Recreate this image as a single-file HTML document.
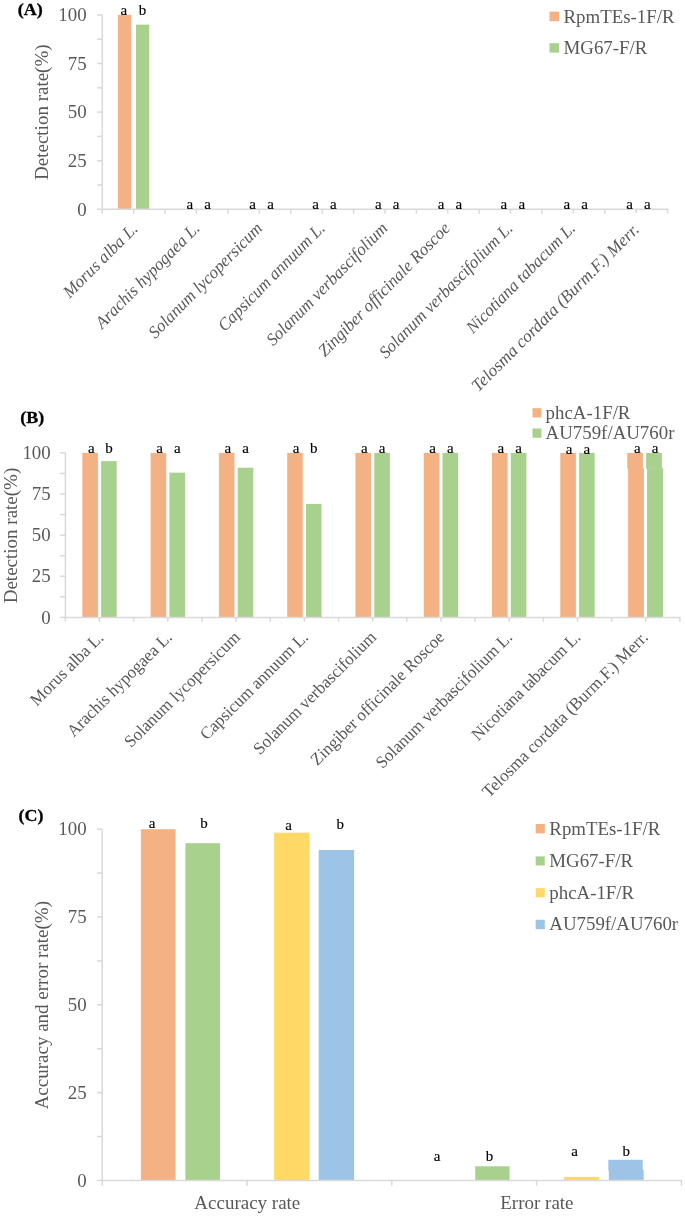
<!DOCTYPE html>
<html><head><meta charset="utf-8"><style>
html,body{margin:0;padding:0;background:#fff;width:685px;height:1216px;overflow:hidden}
svg{display:block}
text{font-family:"Liberation Serif",serif}
</style></head><body>
<svg width="685" height="1216" viewBox="0 0 685 1216">
<defs><filter id="bl" x="-5%" y="-5%" width="110%" height="110%"><feGaussianBlur stdDeviation="0.45"/></filter></defs>
<rect width="685" height="1216" fill="#fff"/>
<rect x="117.86" y="14.90" width="13.30" height="194.40" fill="#F4B183"/>
<rect x="136.01" y="24.62" width="13.30" height="184.68" fill="#A9D18E"/>
<line x1="102.30" y1="14.90" x2="102.30" y2="209.30" stroke="#D9D9D9" stroke-width="1.5"/>
<line x1="101.70" y1="209.30" x2="668.20" y2="209.30" stroke="#D9D9D9" stroke-width="1.5"/>
<line x1="97.10" y1="209.30" x2="102.30" y2="209.30" stroke="#D9D9D9" stroke-width="1.5"/>
<line x1="97.10" y1="185.00" x2="102.30" y2="185.00" stroke="#D9D9D9" stroke-width="1.5"/>
<line x1="97.10" y1="160.70" x2="102.30" y2="160.70" stroke="#D9D9D9" stroke-width="1.5"/>
<line x1="97.10" y1="136.40" x2="102.30" y2="136.40" stroke="#D9D9D9" stroke-width="1.5"/>
<line x1="97.10" y1="112.10" x2="102.30" y2="112.10" stroke="#D9D9D9" stroke-width="1.5"/>
<line x1="97.10" y1="87.80" x2="102.30" y2="87.80" stroke="#D9D9D9" stroke-width="1.5"/>
<line x1="97.10" y1="63.50" x2="102.30" y2="63.50" stroke="#D9D9D9" stroke-width="1.5"/>
<line x1="97.10" y1="39.20" x2="102.30" y2="39.20" stroke="#D9D9D9" stroke-width="1.5"/>
<line x1="97.10" y1="14.90" x2="102.30" y2="14.90" stroke="#D9D9D9" stroke-width="1.5"/>
<line x1="102.30" y1="209.30" x2="102.30" y2="213.60" stroke="#D9D9D9" stroke-width="1.5"/>
<line x1="133.71" y1="209.30" x2="133.71" y2="213.60" stroke="#D9D9D9" stroke-width="1.5"/>
<line x1="165.11" y1="209.30" x2="165.11" y2="213.60" stroke="#D9D9D9" stroke-width="1.5"/>
<line x1="196.52" y1="209.30" x2="196.52" y2="213.60" stroke="#D9D9D9" stroke-width="1.5"/>
<line x1="227.92" y1="209.30" x2="227.92" y2="213.60" stroke="#D9D9D9" stroke-width="1.5"/>
<line x1="259.33" y1="209.30" x2="259.33" y2="213.60" stroke="#D9D9D9" stroke-width="1.5"/>
<line x1="290.73" y1="209.30" x2="290.73" y2="213.60" stroke="#D9D9D9" stroke-width="1.5"/>
<line x1="322.14" y1="209.30" x2="322.14" y2="213.60" stroke="#D9D9D9" stroke-width="1.5"/>
<line x1="353.54" y1="209.30" x2="353.54" y2="213.60" stroke="#D9D9D9" stroke-width="1.5"/>
<line x1="384.95" y1="209.30" x2="384.95" y2="213.60" stroke="#D9D9D9" stroke-width="1.5"/>
<line x1="416.36" y1="209.30" x2="416.36" y2="213.60" stroke="#D9D9D9" stroke-width="1.5"/>
<line x1="447.76" y1="209.30" x2="447.76" y2="213.60" stroke="#D9D9D9" stroke-width="1.5"/>
<line x1="479.17" y1="209.30" x2="479.17" y2="213.60" stroke="#D9D9D9" stroke-width="1.5"/>
<line x1="510.57" y1="209.30" x2="510.57" y2="213.60" stroke="#D9D9D9" stroke-width="1.5"/>
<line x1="541.98" y1="209.30" x2="541.98" y2="213.60" stroke="#D9D9D9" stroke-width="1.5"/>
<line x1="573.38" y1="209.30" x2="573.38" y2="213.60" stroke="#D9D9D9" stroke-width="1.5"/>
<line x1="604.79" y1="209.30" x2="604.79" y2="213.60" stroke="#D9D9D9" stroke-width="1.5"/>
<line x1="636.19" y1="209.30" x2="636.19" y2="213.60" stroke="#D9D9D9" stroke-width="1.5"/>
<line x1="667.60" y1="209.30" x2="667.60" y2="213.60" stroke="#D9D9D9" stroke-width="1.5"/>
<rect x="549.50" y="11.60" width="9.60" height="9.60" fill="#F4B183"/>
<rect x="549.50" y="43.20" width="9.60" height="9.40" fill="#A9D18E"/>
<rect x="82.34" y="452.90" width="15.60" height="164.50" fill="#F4B183"/>
<rect x="101.14" y="461.12" width="15.60" height="156.27" fill="#A9D18E"/>
<rect x="150.62" y="452.90" width="15.60" height="164.50" fill="#F4B183"/>
<rect x="169.42" y="472.64" width="15.60" height="144.76" fill="#A9D18E"/>
<rect x="218.89" y="452.90" width="15.60" height="164.50" fill="#F4B183"/>
<rect x="237.69" y="467.70" width="15.60" height="149.69" fill="#A9D18E"/>
<rect x="287.17" y="452.90" width="15.60" height="164.50" fill="#F4B183"/>
<rect x="305.97" y="503.89" width="15.60" height="113.50" fill="#A9D18E"/>
<rect x="355.45" y="452.90" width="15.60" height="164.50" fill="#F4B183"/>
<rect x="374.25" y="452.90" width="15.60" height="164.50" fill="#A9D18E"/>
<rect x="423.73" y="452.90" width="15.60" height="164.50" fill="#F4B183"/>
<rect x="442.53" y="452.90" width="15.60" height="164.50" fill="#A9D18E"/>
<rect x="492.01" y="452.90" width="15.60" height="164.50" fill="#F4B183"/>
<rect x="510.81" y="452.90" width="15.60" height="164.50" fill="#A9D18E"/>
<rect x="560.28" y="452.90" width="15.60" height="164.50" fill="#F4B183"/>
<rect x="579.08" y="452.90" width="15.60" height="164.50" fill="#A9D18E"/>
<rect x="627.30" y="452.90" width="15.60" height="15.90" fill="#F4B183"/>
<rect x="646.10" y="452.90" width="15.80" height="15.90" fill="#A9D18E"/>
<rect x="628.10" y="468.20" width="15.80" height="149.20" fill="#F4B183"/>
<rect x="647.00" y="468.20" width="16.00" height="149.20" fill="#A9D18E"/>
<line x1="65.40" y1="452.90" x2="65.40" y2="617.40" stroke="#D9D9D9" stroke-width="1.5"/>
<line x1="64.80" y1="617.40" x2="680.50" y2="617.40" stroke="#D9D9D9" stroke-width="1.5"/>
<line x1="60.20" y1="617.40" x2="65.40" y2="617.40" stroke="#D9D9D9" stroke-width="1.5"/>
<line x1="60.20" y1="596.84" x2="65.40" y2="596.84" stroke="#D9D9D9" stroke-width="1.5"/>
<line x1="60.20" y1="576.27" x2="65.40" y2="576.27" stroke="#D9D9D9" stroke-width="1.5"/>
<line x1="60.20" y1="555.71" x2="65.40" y2="555.71" stroke="#D9D9D9" stroke-width="1.5"/>
<line x1="60.20" y1="535.15" x2="65.40" y2="535.15" stroke="#D9D9D9" stroke-width="1.5"/>
<line x1="60.20" y1="514.59" x2="65.40" y2="514.59" stroke="#D9D9D9" stroke-width="1.5"/>
<line x1="60.20" y1="494.02" x2="65.40" y2="494.02" stroke="#D9D9D9" stroke-width="1.5"/>
<line x1="60.20" y1="473.46" x2="65.40" y2="473.46" stroke="#D9D9D9" stroke-width="1.5"/>
<line x1="60.20" y1="452.90" x2="65.40" y2="452.90" stroke="#D9D9D9" stroke-width="1.5"/>
<line x1="65.40" y1="617.40" x2="65.40" y2="621.70" stroke="#D9D9D9" stroke-width="1.5"/>
<line x1="99.54" y1="617.40" x2="99.54" y2="621.70" stroke="#D9D9D9" stroke-width="1.5"/>
<line x1="133.68" y1="617.40" x2="133.68" y2="621.70" stroke="#D9D9D9" stroke-width="1.5"/>
<line x1="167.82" y1="617.40" x2="167.82" y2="621.70" stroke="#D9D9D9" stroke-width="1.5"/>
<line x1="201.96" y1="617.40" x2="201.96" y2="621.70" stroke="#D9D9D9" stroke-width="1.5"/>
<line x1="236.09" y1="617.40" x2="236.09" y2="621.70" stroke="#D9D9D9" stroke-width="1.5"/>
<line x1="270.23" y1="617.40" x2="270.23" y2="621.70" stroke="#D9D9D9" stroke-width="1.5"/>
<line x1="304.37" y1="617.40" x2="304.37" y2="621.70" stroke="#D9D9D9" stroke-width="1.5"/>
<line x1="338.51" y1="617.40" x2="338.51" y2="621.70" stroke="#D9D9D9" stroke-width="1.5"/>
<line x1="372.65" y1="617.40" x2="372.65" y2="621.70" stroke="#D9D9D9" stroke-width="1.5"/>
<line x1="406.79" y1="617.40" x2="406.79" y2="621.70" stroke="#D9D9D9" stroke-width="1.5"/>
<line x1="440.93" y1="617.40" x2="440.93" y2="621.70" stroke="#D9D9D9" stroke-width="1.5"/>
<line x1="475.07" y1="617.40" x2="475.07" y2="621.70" stroke="#D9D9D9" stroke-width="1.5"/>
<line x1="509.21" y1="617.40" x2="509.21" y2="621.70" stroke="#D9D9D9" stroke-width="1.5"/>
<line x1="543.34" y1="617.40" x2="543.34" y2="621.70" stroke="#D9D9D9" stroke-width="1.5"/>
<line x1="577.48" y1="617.40" x2="577.48" y2="621.70" stroke="#D9D9D9" stroke-width="1.5"/>
<line x1="611.62" y1="617.40" x2="611.62" y2="621.70" stroke="#D9D9D9" stroke-width="1.5"/>
<line x1="645.76" y1="617.40" x2="645.76" y2="621.70" stroke="#D9D9D9" stroke-width="1.5"/>
<line x1="679.90" y1="617.40" x2="679.90" y2="621.70" stroke="#D9D9D9" stroke-width="1.5"/>
<rect x="532.50" y="408.20" width="8.90" height="9.30" fill="#F4B183"/>
<rect x="532.50" y="428.50" width="8.90" height="9.30" fill="#A9D18E"/>
<rect x="140.90" y="829.20" width="34.70" height="351.20" fill="#F4B183"/>
<rect x="185.40" y="843.20" width="34.60" height="337.20" fill="#A9D18E"/>
<rect x="274.10" y="832.70" width="35.40" height="347.70" fill="#FFD966"/>
<rect x="318.70" y="850.00" width="35.40" height="330.40" fill="#9DC3E6"/>
<rect x="475.20" y="1166.30" width="34.40" height="14.10" fill="#A9D18E"/>
<rect x="564.00" y="1176.90" width="35.20" height="3.50" fill="#FFD966"/>
<rect x="608.30" y="1159.80" width="34.40" height="10.60" fill="#9DC3E6"/>
<rect x="608.80" y="1169.80" width="34.90" height="10.60" fill="#9DC3E6"/>
<line x1="102.20" y1="829.20" x2="102.20" y2="1180.40" stroke="#D9D9D9" stroke-width="1.5"/>
<line x1="101.60" y1="1180.40" x2="682.00" y2="1180.40" stroke="#D9D9D9" stroke-width="1.5"/>
<line x1="97.00" y1="1180.40" x2="102.20" y2="1180.40" stroke="#D9D9D9" stroke-width="1.5"/>
<line x1="97.00" y1="1136.50" x2="102.20" y2="1136.50" stroke="#D9D9D9" stroke-width="1.5"/>
<line x1="97.00" y1="1092.60" x2="102.20" y2="1092.60" stroke="#D9D9D9" stroke-width="1.5"/>
<line x1="97.00" y1="1048.70" x2="102.20" y2="1048.70" stroke="#D9D9D9" stroke-width="1.5"/>
<line x1="97.00" y1="1004.80" x2="102.20" y2="1004.80" stroke="#D9D9D9" stroke-width="1.5"/>
<line x1="97.00" y1="960.90" x2="102.20" y2="960.90" stroke="#D9D9D9" stroke-width="1.5"/>
<line x1="97.00" y1="917.00" x2="102.20" y2="917.00" stroke="#D9D9D9" stroke-width="1.5"/>
<line x1="97.00" y1="873.10" x2="102.20" y2="873.10" stroke="#D9D9D9" stroke-width="1.5"/>
<line x1="97.00" y1="829.20" x2="102.20" y2="829.20" stroke="#D9D9D9" stroke-width="1.5"/>
<line x1="102.20" y1="1180.40" x2="102.20" y2="1185.70" stroke="#D9D9D9" stroke-width="1.5"/>
<line x1="247.00" y1="1180.40" x2="247.00" y2="1185.70" stroke="#D9D9D9" stroke-width="1.5"/>
<line x1="391.80" y1="1180.40" x2="391.80" y2="1185.70" stroke="#D9D9D9" stroke-width="1.5"/>
<line x1="536.60" y1="1180.40" x2="536.60" y2="1185.70" stroke="#D9D9D9" stroke-width="1.5"/>
<line x1="681.40" y1="1180.40" x2="681.40" y2="1185.70" stroke="#D9D9D9" stroke-width="1.5"/>
<rect x="535.70" y="824.00" width="9.10" height="9.40" fill="#F4B183"/>
<rect x="535.70" y="856.40" width="9.10" height="9.10" fill="#A9D18E"/>
<rect x="535.70" y="888.20" width="9.10" height="9.10" fill="#FFD966"/>
<rect x="535.70" y="919.80" width="9.10" height="9.40" fill="#9DC3E6"/>
<g filter="url(#bl)">
<text transform="translate(86.60 215.50) scale(1.05 1)" font-size="18" fill="#595959" text-anchor="end" >0</text>
<text transform="translate(86.60 166.90) scale(1.05 1)" font-size="18" fill="#595959" text-anchor="end" >25</text>
<text transform="translate(86.60 118.30) scale(1.05 1)" font-size="18" fill="#595959" text-anchor="end" >50</text>
<text transform="translate(86.60 69.70) scale(1.05 1)" font-size="18" fill="#595959" text-anchor="end" >75</text>
<text transform="translate(86.60 21.10) scale(1.05 1)" font-size="18" fill="#595959" text-anchor="end" >100</text>
<text x="47.80" y="112.20" font-size="19" fill="#595959" text-anchor="middle"  transform="rotate(-90 47.80 112.20)">Detection rate(%)</text>
<text transform="translate(17.80 15.00) scale(1.06 1)" font-size="17" fill="#000" text-anchor="start" font-weight="bold" stroke="#000" stroke-width="0.3">(A)</text>
<text x="123.75" y="15.40" font-size="15" fill="#000" text-anchor="middle" stroke="#000" stroke-width="0.15">a</text>
<text x="142.50" y="15.20" font-size="15" fill="#000" text-anchor="middle" stroke="#000" stroke-width="0.15">b</text>
<text x="189.87" y="209.00" font-size="15" fill="#000" text-anchor="middle" stroke="#000" stroke-width="0.15">a</text>
<text x="207.67" y="209.00" font-size="15" fill="#000" text-anchor="middle" stroke="#000" stroke-width="0.15">a</text>
<text x="252.68" y="209.00" font-size="15" fill="#000" text-anchor="middle" stroke="#000" stroke-width="0.15">a</text>
<text x="270.48" y="209.00" font-size="15" fill="#000" text-anchor="middle" stroke="#000" stroke-width="0.15">a</text>
<text x="315.49" y="209.00" font-size="15" fill="#000" text-anchor="middle" stroke="#000" stroke-width="0.15">a</text>
<text x="333.29" y="209.00" font-size="15" fill="#000" text-anchor="middle" stroke="#000" stroke-width="0.15">a</text>
<text x="378.30" y="209.00" font-size="15" fill="#000" text-anchor="middle" stroke="#000" stroke-width="0.15">a</text>
<text x="396.10" y="209.00" font-size="15" fill="#000" text-anchor="middle" stroke="#000" stroke-width="0.15">a</text>
<text x="441.11" y="209.00" font-size="15" fill="#000" text-anchor="middle" stroke="#000" stroke-width="0.15">a</text>
<text x="458.91" y="209.00" font-size="15" fill="#000" text-anchor="middle" stroke="#000" stroke-width="0.15">a</text>
<text x="503.92" y="209.00" font-size="15" fill="#000" text-anchor="middle" stroke="#000" stroke-width="0.15">a</text>
<text x="521.72" y="209.00" font-size="15" fill="#000" text-anchor="middle" stroke="#000" stroke-width="0.15">a</text>
<text x="566.73" y="209.00" font-size="15" fill="#000" text-anchor="middle" stroke="#000" stroke-width="0.15">a</text>
<text x="584.53" y="209.00" font-size="15" fill="#000" text-anchor="middle" stroke="#000" stroke-width="0.15">a</text>
<text x="629.54" y="209.00" font-size="15" fill="#000" text-anchor="middle" stroke="#000" stroke-width="0.15">a</text>
<text x="647.34" y="209.00" font-size="15" fill="#000" text-anchor="middle" stroke="#000" stroke-width="0.15">a</text>
<text transform="translate(563.50 23.00) scale(1.06 1)" font-size="17.8" fill="#595959" text-anchor="start" >RpmTEs-1F/R</text>
<text transform="translate(563.50 54.30) scale(1.06 1)" font-size="17.8" fill="#595959" text-anchor="start" >MG67-F/R</text>
<text x="138.70" y="229.80" font-size="17.3" fill="#595959" text-anchor="end" font-style="italic" textLength="97.54" lengthAdjust="spacingAndGlyphs" transform="rotate(-45 138.70 229.80)">Morus alba L.</text>
<text x="200.70" y="229.20" font-size="17.3" fill="#595959" text-anchor="end" font-style="italic" textLength="140.52" lengthAdjust="spacingAndGlyphs" transform="rotate(-45.5 200.70 229.20)">Arachis hypogaea L.</text>
<text x="263.30" y="229.20" font-size="17.3" fill="#595959" text-anchor="end" font-style="italic" textLength="154.15" lengthAdjust="spacingAndGlyphs" transform="rotate(-45.5 263.30 229.20)">Solanum lycopersicum</text>
<text x="325.90" y="229.20" font-size="17.3" fill="#595959" text-anchor="end" font-style="italic" textLength="144.39" lengthAdjust="spacingAndGlyphs" transform="rotate(-45.5 325.90 229.20)">Capsicum annuum L.</text>
<text x="388.50" y="229.20" font-size="17.3" fill="#595959" text-anchor="end" font-style="italic" textLength="164.52" lengthAdjust="spacingAndGlyphs" transform="rotate(-45.5 388.50 229.20)">Solanum verbascifolium</text>
<text x="451.10" y="229.20" font-size="17.3" fill="#595959" text-anchor="end" font-style="italic" textLength="180.04" lengthAdjust="spacingAndGlyphs" transform="rotate(-45.5 451.10 229.20)">Zingiber officinale Roscoe</text>
<text x="513.70" y="229.20" font-size="17.3" fill="#595959" text-anchor="end" font-style="italic" textLength="182.27" lengthAdjust="spacingAndGlyphs" transform="rotate(-45.5 513.70 229.20)">Solanum verbascifolium L.</text>
<text x="576.30" y="229.20" font-size="17.3" fill="#595959" text-anchor="end" font-style="italic" textLength="147.45" lengthAdjust="spacingAndGlyphs" transform="rotate(-45.5 576.30 229.20)">Nicotiana tabacum L.</text>
<text x="640.20" y="230.50" font-size="17.3" fill="#595959" text-anchor="end" font-style="italic" textLength="228.98" lengthAdjust="spacingAndGlyphs" transform="rotate(-45 640.20 230.50)">Telosma cordata (Burm.F.) Merr.</text>
<text transform="translate(50.70 623.60) scale(1.05 1)" font-size="18" fill="#595959" text-anchor="end" >0</text>
<text transform="translate(50.70 582.48) scale(1.05 1)" font-size="18" fill="#595959" text-anchor="end" >25</text>
<text transform="translate(50.70 541.35) scale(1.05 1)" font-size="18" fill="#595959" text-anchor="end" >50</text>
<text transform="translate(50.70 500.22) scale(1.05 1)" font-size="18" fill="#595959" text-anchor="end" >75</text>
<text transform="translate(50.70 459.10) scale(1.05 1)" font-size="18" fill="#595959" text-anchor="end" >100</text>
<text x="17.00" y="535.50" font-size="19" fill="#595959" text-anchor="middle"  transform="rotate(-90 17.00 535.50)">Detection rate(%)</text>
<text transform="translate(20.30 422.60) scale(1.06 1)" font-size="17" fill="#000" text-anchor="start" font-weight="bold" stroke="#000" stroke-width="0.3">(B)</text>
<text x="91.24" y="452.60" font-size="15" fill="#000" text-anchor="middle" stroke="#000" stroke-width="0.15">a</text>
<text x="108.94" y="452.60" font-size="15" fill="#000" text-anchor="middle" stroke="#000" stroke-width="0.15">b</text>
<text x="159.52" y="452.60" font-size="15" fill="#000" text-anchor="middle" stroke="#000" stroke-width="0.15">a</text>
<text x="177.22" y="452.60" font-size="15" fill="#000" text-anchor="middle" stroke="#000" stroke-width="0.15">a</text>
<text x="227.79" y="452.60" font-size="15" fill="#000" text-anchor="middle" stroke="#000" stroke-width="0.15">a</text>
<text x="245.49" y="452.60" font-size="15" fill="#000" text-anchor="middle" stroke="#000" stroke-width="0.15">a</text>
<text x="296.07" y="452.60" font-size="15" fill="#000" text-anchor="middle" stroke="#000" stroke-width="0.15">a</text>
<text x="313.77" y="452.60" font-size="15" fill="#000" text-anchor="middle" stroke="#000" stroke-width="0.15">b</text>
<text x="364.35" y="452.60" font-size="15" fill="#000" text-anchor="middle" stroke="#000" stroke-width="0.15">a</text>
<text x="382.05" y="452.60" font-size="15" fill="#000" text-anchor="middle" stroke="#000" stroke-width="0.15">a</text>
<text x="432.63" y="452.60" font-size="15" fill="#000" text-anchor="middle" stroke="#000" stroke-width="0.15">a</text>
<text x="450.33" y="452.60" font-size="15" fill="#000" text-anchor="middle" stroke="#000" stroke-width="0.15">a</text>
<text x="500.91" y="452.60" font-size="15" fill="#000" text-anchor="middle" stroke="#000" stroke-width="0.15">a</text>
<text x="518.61" y="452.60" font-size="15" fill="#000" text-anchor="middle" stroke="#000" stroke-width="0.15">a</text>
<text x="569.18" y="454.00" font-size="15" fill="#000" text-anchor="middle" stroke="#000" stroke-width="0.15">a</text>
<text x="586.88" y="454.00" font-size="15" fill="#000" text-anchor="middle" stroke="#000" stroke-width="0.15">a</text>
<text x="637.46" y="452.70" font-size="15" fill="#000" text-anchor="middle" stroke="#000" stroke-width="0.15">a</text>
<text x="655.16" y="452.70" font-size="15" fill="#000" text-anchor="middle" stroke="#000" stroke-width="0.15">a</text>
<text transform="translate(545.60 418.60) scale(1.06 1)" font-size="17.8" fill="#595959" text-anchor="start" >phcA-1F/R</text>
<text transform="translate(545.60 438.50) scale(1.06 1)" font-size="17.8" fill="#595959" text-anchor="start" >AU759f/AU760r</text>
<text x="104.65" y="638.65" font-size="17.3" fill="#595959" text-anchor="end"  textLength="96.14" lengthAdjust="spacingAndGlyphs" transform="rotate(-45 104.65 638.65)">Morus alba L.</text>
<text x="173.06" y="638.30" font-size="17.3" fill="#595959" text-anchor="end"  textLength="140.58" lengthAdjust="spacingAndGlyphs" transform="rotate(-45 173.06 638.30)">Arachis hypogaea L.</text>
<text x="241.12" y="638.30" font-size="17.3" fill="#595959" text-anchor="end"  textLength="155.58" lengthAdjust="spacingAndGlyphs" transform="rotate(-45 241.12 638.30)">Solanum lycopersicum</text>
<text x="309.18" y="638.30" font-size="17.3" fill="#595959" text-anchor="end"  textLength="144.91" lengthAdjust="spacingAndGlyphs" transform="rotate(-45 309.18 638.30)">Capsicum annuum L.</text>
<text x="377.24" y="638.30" font-size="17.3" fill="#595959" text-anchor="end"  textLength="165.67" lengthAdjust="spacingAndGlyphs" transform="rotate(-45 377.24 638.30)">Solanum verbascifolium</text>
<text x="445.30" y="638.30" font-size="17.3" fill="#595959" text-anchor="end"  textLength="181.02" lengthAdjust="spacingAndGlyphs" transform="rotate(-45 445.30 638.30)">Zingiber officinale Roscoe</text>
<text x="513.36" y="638.30" font-size="17.3" fill="#595959" text-anchor="end"  textLength="185.12" lengthAdjust="spacingAndGlyphs" transform="rotate(-45 513.36 638.30)">Solanum verbascifolium L.</text>
<text x="581.42" y="638.30" font-size="17.3" fill="#595959" text-anchor="end"  textLength="145.83" lengthAdjust="spacingAndGlyphs" transform="rotate(-45 581.42 638.30)">Nicotiana tabacum L.</text>
<text x="648.98" y="638.30" font-size="17.3" fill="#595959" text-anchor="end"  textLength="226.37" lengthAdjust="spacingAndGlyphs" transform="rotate(-45 648.98 638.30)">Telosma cordata (Burm.F.) Merr.</text>
<text transform="translate(86.60 1186.60) scale(1.05 1)" font-size="18" fill="#595959" text-anchor="end" >0</text>
<text transform="translate(86.60 1098.80) scale(1.05 1)" font-size="18" fill="#595959" text-anchor="end" >25</text>
<text transform="translate(86.60 1011.00) scale(1.05 1)" font-size="18" fill="#595959" text-anchor="end" >50</text>
<text transform="translate(86.60 923.20) scale(1.05 1)" font-size="18" fill="#595959" text-anchor="end" >75</text>
<text transform="translate(86.60 835.40) scale(1.05 1)" font-size="18" fill="#595959" text-anchor="end" >100</text>
<text x="48.50" y="1005.20" font-size="19" fill="#595959" text-anchor="middle"  transform="rotate(-90 48.50 1005.20)">Accuracy and error rate(%)</text>
<text transform="translate(18.60 821.00) scale(1.06 1)" font-size="17" fill="#000" text-anchor="start" font-weight="bold" stroke="#000" stroke-width="0.3">(C)</text>
<text x="152.00" y="828.00" font-size="15" fill="#000" text-anchor="middle" stroke="#000" stroke-width="0.15">a</text>
<text x="204.10" y="828.00" font-size="15" fill="#000" text-anchor="middle" stroke="#000" stroke-width="0.15">b</text>
<text x="288.70" y="830.20" font-size="15" fill="#000" text-anchor="middle" stroke="#000" stroke-width="0.15">a</text>
<text x="340.20" y="829.20" font-size="15" fill="#000" text-anchor="middle" stroke="#000" stroke-width="0.15">b</text>
<text x="437.15" y="1161.40" font-size="15" fill="#000" text-anchor="middle" stroke="#000" stroke-width="0.15">a</text>
<text x="489.40" y="1161.40" font-size="15" fill="#000" text-anchor="middle" stroke="#000" stroke-width="0.15">b</text>
<text x="574.65" y="1155.70" font-size="15" fill="#000" text-anchor="middle" stroke="#000" stroke-width="0.15">a</text>
<text x="626.15" y="1155.70" font-size="15" fill="#000" text-anchor="middle" stroke="#000" stroke-width="0.15">b</text>
<text transform="translate(549.30 834.80) scale(1.06 1)" font-size="17.8" fill="#595959" text-anchor="start" >RpmTEs-1F/R</text>
<text transform="translate(549.30 867.00) scale(1.06 1)" font-size="17.8" fill="#595959" text-anchor="start" >MG67-F/R</text>
<text transform="translate(549.30 899.00) scale(1.06 1)" font-size="17.8" fill="#595959" text-anchor="start" >phcA-1F/R</text>
<text transform="translate(549.30 930.40) scale(1.06 1)" font-size="17.8" fill="#595959" text-anchor="start" >AU759f/AU760r</text>
<text transform="translate(247.30 1208.60) scale(1.055 1)" font-size="18" fill="#595959" text-anchor="middle" >Accuracy rate</text>
<text transform="translate(536.90 1208.60) scale(1.055 1)" font-size="18" fill="#595959" text-anchor="middle" >Error rate</text>
</g>
</svg>
</body></html>
